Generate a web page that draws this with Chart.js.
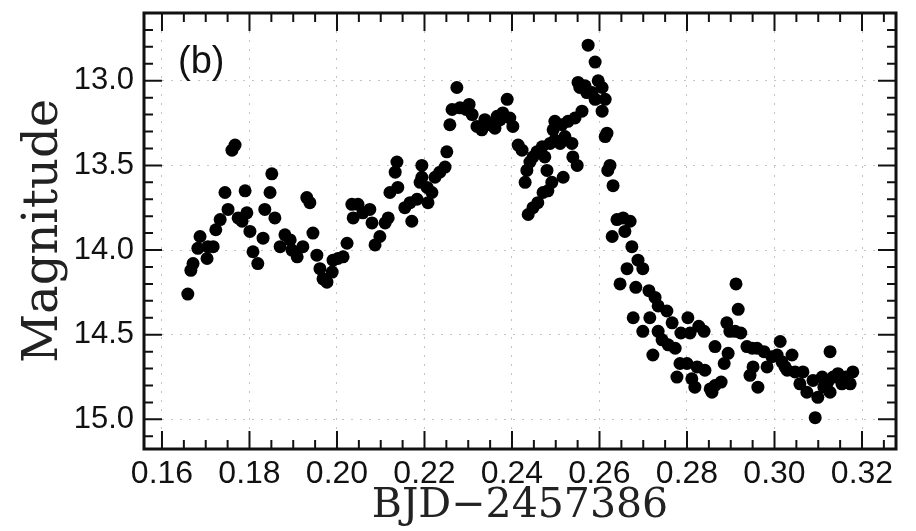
<!DOCTYPE html>
<html>
<head>
<meta charset="utf-8">
<script src="https://cdn.jsdelivr.net/npm/chart.js@4.4.1/dist/chart.umd.min.js"></script>
<style>
  html, body { margin: 0; padding: 0; background: #fff; }
  canvas { display: block; }
</style>
</head>
<body>
<canvas id="lc" width="916" height="531"></canvas>
<script>
// light curve, panel (b)
const bjd = [
  0.1659, 0.1666, 0.1671, 0.1682, 0.1687, 0.1703, 0.1705, 0.1717, 0.1723, 0.1733,
  0.1744, 0.1751, 0.1760, 0.1767, 0.1774, 0.1783, 0.1790, 0.1794, 0.1801, 0.1808,
  0.1819, 0.1831, 0.1835, 0.1847, 0.1851, 0.1858, 0.1870, 0.1881, 0.1893, 0.1897,
  0.1909, 0.1922, 0.1931, 0.1938, 0.1945, 0.1954, 0.1961, 0.1968, 0.1977, 0.1989,
  0.1991, 0.2002, 0.2014, 0.2023, 0.2034, 0.2037, 0.2048, 0.2059, 0.2075, 0.2080,
  0.2087, 0.2098, 0.2110, 0.2117, 0.2121, 0.2133, 0.2137, 0.2139, 0.2155, 0.2167,
  0.2171, 0.2183, 0.2190, 0.2194, 0.2194, 0.2206, 0.2208, 0.2217, 0.2224, 0.2235,
  0.2247, 0.2251, 0.2258, 0.2263, 0.2274, 0.2281, 0.2295, 0.2302, 0.2309, 0.2320,
  0.2331, 0.2338, 0.2350, 0.2361, 0.2366, 0.2373, 0.2379, 0.2389, 0.2395, 0.2402,
  0.2414, 0.2423, 0.2430, 0.2434, 0.2437, 0.2441, 0.2448, 0.2448, 0.2457, 0.2459,
  0.2469, 0.2471, 0.2475, 0.2480, 0.2482, 0.2487, 0.2491, 0.2494, 0.2498, 0.2498,
  0.2510, 0.2514, 0.2517, 0.2521, 0.2528, 0.2537, 0.2539, 0.2544, 0.2549, 0.2551,
  0.2555, 0.2560, 0.2567, 0.2571, 0.2574, 0.2583, 0.2590, 0.2590, 0.2597, 0.2606,
  0.2613, 0.2606, 0.2613, 0.2617, 0.2619, 0.2624, 0.2631, 0.2629, 0.2640, 0.2654,
  0.2658, 0.2670, 0.2674, 0.2688, 0.2663, 0.2699, 0.2647, 0.2683, 0.2713, 0.2727,
  0.2734, 0.2754, 0.2677, 0.2715, 0.2766, 0.2699, 0.2734, 0.2743, 0.2757, 0.2773,
  0.2722, 0.2786, 0.2802, 0.2807, 0.2827, 0.2839, 0.2864, 0.2784, 0.2800, 0.2823,
  0.2841, 0.2777, 0.2811, 0.2818, 0.2853, 0.2864, 0.2878, 0.2857, 0.2885, 0.2894,
  0.2898, 0.2891, 0.2910, 0.2917, 0.2912, 0.2923, 0.2937, 0.2949, 0.2960, 0.2951,
  0.2944, 0.2962, 0.2976, 0.2983, 0.2994, 0.3006, 0.3013, 0.3017, 0.3024, 0.3029,
  0.3040, 0.3047, 0.3058, 0.3065, 0.3074, 0.3088, 0.3093, 0.3099, 0.3109, 0.3113,
  0.3122, 0.3127, 0.3134, 0.3145, 0.3154, 0.3163, 0.3173, 0.3179, 0.3127
];
const mag = [
  14.26, 14.12, 14.08, 13.99, 13.92, 14.05, 13.98, 13.98, 13.88, 13.82,
  13.66, 13.76, 13.41, 13.38, 13.81, 13.83, 13.65, 13.78, 13.89, 14.01,
  14.08, 13.93, 13.76, 13.66, 13.55, 13.81, 13.98, 13.91, 13.94, 14.00,
  14.04, 13.98, 13.69, 13.72, 13.90, 14.03, 14.11, 14.17, 14.19, 14.13,
  14.06, 14.05, 14.04, 13.96, 13.73, 13.81, 13.73, 13.78, 13.76, 13.84,
  13.97, 13.92, 13.84, 13.81, 13.66, 13.54, 13.48, 13.63, 13.75, 13.72,
  13.83, 13.70, 13.60, 13.50, 13.57, 13.63, 13.72, 13.66, 13.57, 13.54,
  13.51, 13.42, 13.26, 13.17, 13.04, 13.16, 13.17, 13.14, 13.20, 13.27,
  13.29, 13.23, 13.26, 13.28, 13.21, 13.23, 13.19, 13.11, 13.22, 13.27,
  13.38, 13.41, 13.60, 13.53, 13.79, 13.48, 13.45, 13.75, 13.42, 13.72,
  13.39, 13.66, 13.45, 13.53, 13.65, 13.37, 13.60, 13.29, 13.35, 13.24,
  13.37, 13.26, 13.57, 13.33, 13.24, 13.37, 13.45, 13.22, 13.50, 13.01,
  13.04, 13.18, 13.03, 13.07, 12.79, 13.07, 12.89, 13.11, 13.00, 13.04,
  13.11, 13.18, 13.33, 13.31, 13.53, 13.50, 13.62, 13.92, 13.82, 13.81,
  13.89, 13.83, 13.98, 14.06, 14.11, 14.11, 14.20, 14.22, 14.24, 14.28,
  14.33, 14.36, 14.40, 14.40, 14.43, 14.48, 14.48, 14.53, 14.56, 14.58,
  14.62, 14.49, 14.40, 14.49, 14.45, 14.48, 14.57, 14.67, 14.67, 14.69,
  14.71, 14.75, 14.76, 14.81, 14.82, 14.80, 14.78, 14.84, 14.67, 14.61,
  14.48, 14.43, 14.48, 14.35, 14.20, 14.49, 14.57, 14.58, 14.58, 14.69,
  14.74, 14.81, 14.60, 14.69, 14.63, 14.62, 14.54, 14.66, 14.69, 14.71,
  14.62, 14.72, 14.79, 14.72, 14.84, 14.77, 14.99, 14.87, 14.75, 14.81,
  14.78, 14.60, 14.75, 14.73, 14.79, 14.75, 14.79, 14.72, 14.84
];
const xTicks = [0.16, 0.18, 0.20, 0.22, 0.24, 0.26, 0.28, 0.30, 0.32];
const yTicks = [13.0, 13.5, 14.0, 14.5, 15.0];

const points = bjd.map((t, i) => ({ x: t, y: mag[i] }));

// inward ticks on all four sides, frame and panel tag
const frameTicks = {
  id: 'frameTicks',
  afterDatasetsDraw(chart) {
    const { ctx, chartArea: a, scales: { x, y } } = chart;
    ctx.save();
    ctx.strokeStyle = '#111';
    ctx.lineWidth = 2;
    ctx.beginPath();
    for (let i = 32; i <= 65; i++) {
      const px = x.getPixelForValue(i * 0.005);
      const len = i % 4 === 0 ? 18 : 9;
      ctx.moveTo(px, a.bottom); ctx.lineTo(px, a.bottom - len);
      ctx.moveTo(px, a.top); ctx.lineTo(px, a.top + len);
    }
    for (let i = 127; i <= 151; i++) {
      const py = y.getPixelForValue(i / 10);
      const len = i % 5 === 0 ? 18 : 9;
      ctx.moveTo(a.left, py); ctx.lineTo(a.left + len, py);
      ctx.moveTo(a.right, py); ctx.lineTo(a.right - len, py);
    }
    ctx.stroke();
    ctx.lineWidth = 3;
    ctx.strokeRect(a.left, a.top, a.right - a.left, a.bottom - a.top);
    ctx.fillStyle = '#111';
    ctx.font = '38px "Liberation Sans", Arial, sans-serif';
    ctx.textBaseline = 'middle';
    ctx.fillText('(b)', a.left + 34, a.top + 50);
    ctx.restore();
  }
};

new Chart(document.getElementById('lc'), {
  type: 'scatter',
  data: {
    datasets: [{
      label: 'Magnitude',
      data: points,
      pointRadius: 6.5,
      pointHoverRadius: 6.5,
      pointBackgroundColor: '#000',
      pointBorderColor: '#000',
      pointBorderWidth: 0
    }]
  },
  options: {
    responsive: false,
    devicePixelRatio: 1,
    animation: false,
    layout: { autoPadding: false, padding: { left: 0, right: 20, top: 13, bottom: 0 } },
    plugins: { legend: { display: false }, tooltip: { enabled: false } },
    scales: {
      x: {
        type: 'linear',
        min: 0.15589,
        max: 0.32777,
        afterFit(s) { s.height = 82; s.paddingLeft = 0; s.paddingRight = 0; },
        afterBuildTicks(s) { s.ticks = xTicks.map(v => ({ value: v })); },
        grid: { color: '#c4c4c4', lineWidth: 1, drawTicks: false },
        border: { display: false, dash: [2, 7] },
        ticks: {
          padding: 6,
          color: '#111',
          maxRotation: 0,
          font: { family: '"Liberation Sans", Arial, sans-serif', size: 32 },
          callback: v => v.toFixed(2)
        },
        title: {
          display: true,
          text: 'BJD\u22122457386',
          color: '#222',
          padding: { top: 0, bottom: 0 },
          font: { family: '"DejaVu Serif", serif', size: 41 }
        }
      },
      y: {
        type: 'linear',
        reverse: true,
        min: 12.60,
        max: 15.175,
        afterFit(s) { s.width = 144; s.paddingTop = 0; s.paddingBottom = 0; },
        afterBuildTicks(s) { s.ticks = yTicks.map(v => ({ value: v })); },
        grid: { color: '#c4c4c4', lineWidth: 1, drawTicks: false },
        border: { display: false, dash: [2, 7] },
        ticks: {
          padding: 10,
          color: '#111',
          font: { family: '"Liberation Sans", Arial, sans-serif', size: 31 },
          callback: v => v.toFixed(1)
        },
        title: {
          display: true,
          text: 'Magnitude',
          color: '#222',
          padding: { top: 16, bottom: 0 },
          font: { family: '"DejaVu Serif", serif', size: 48 }
        }
      }
    }
  },
  plugins: [frameTicks]
});
</script>
</body>
</html>
